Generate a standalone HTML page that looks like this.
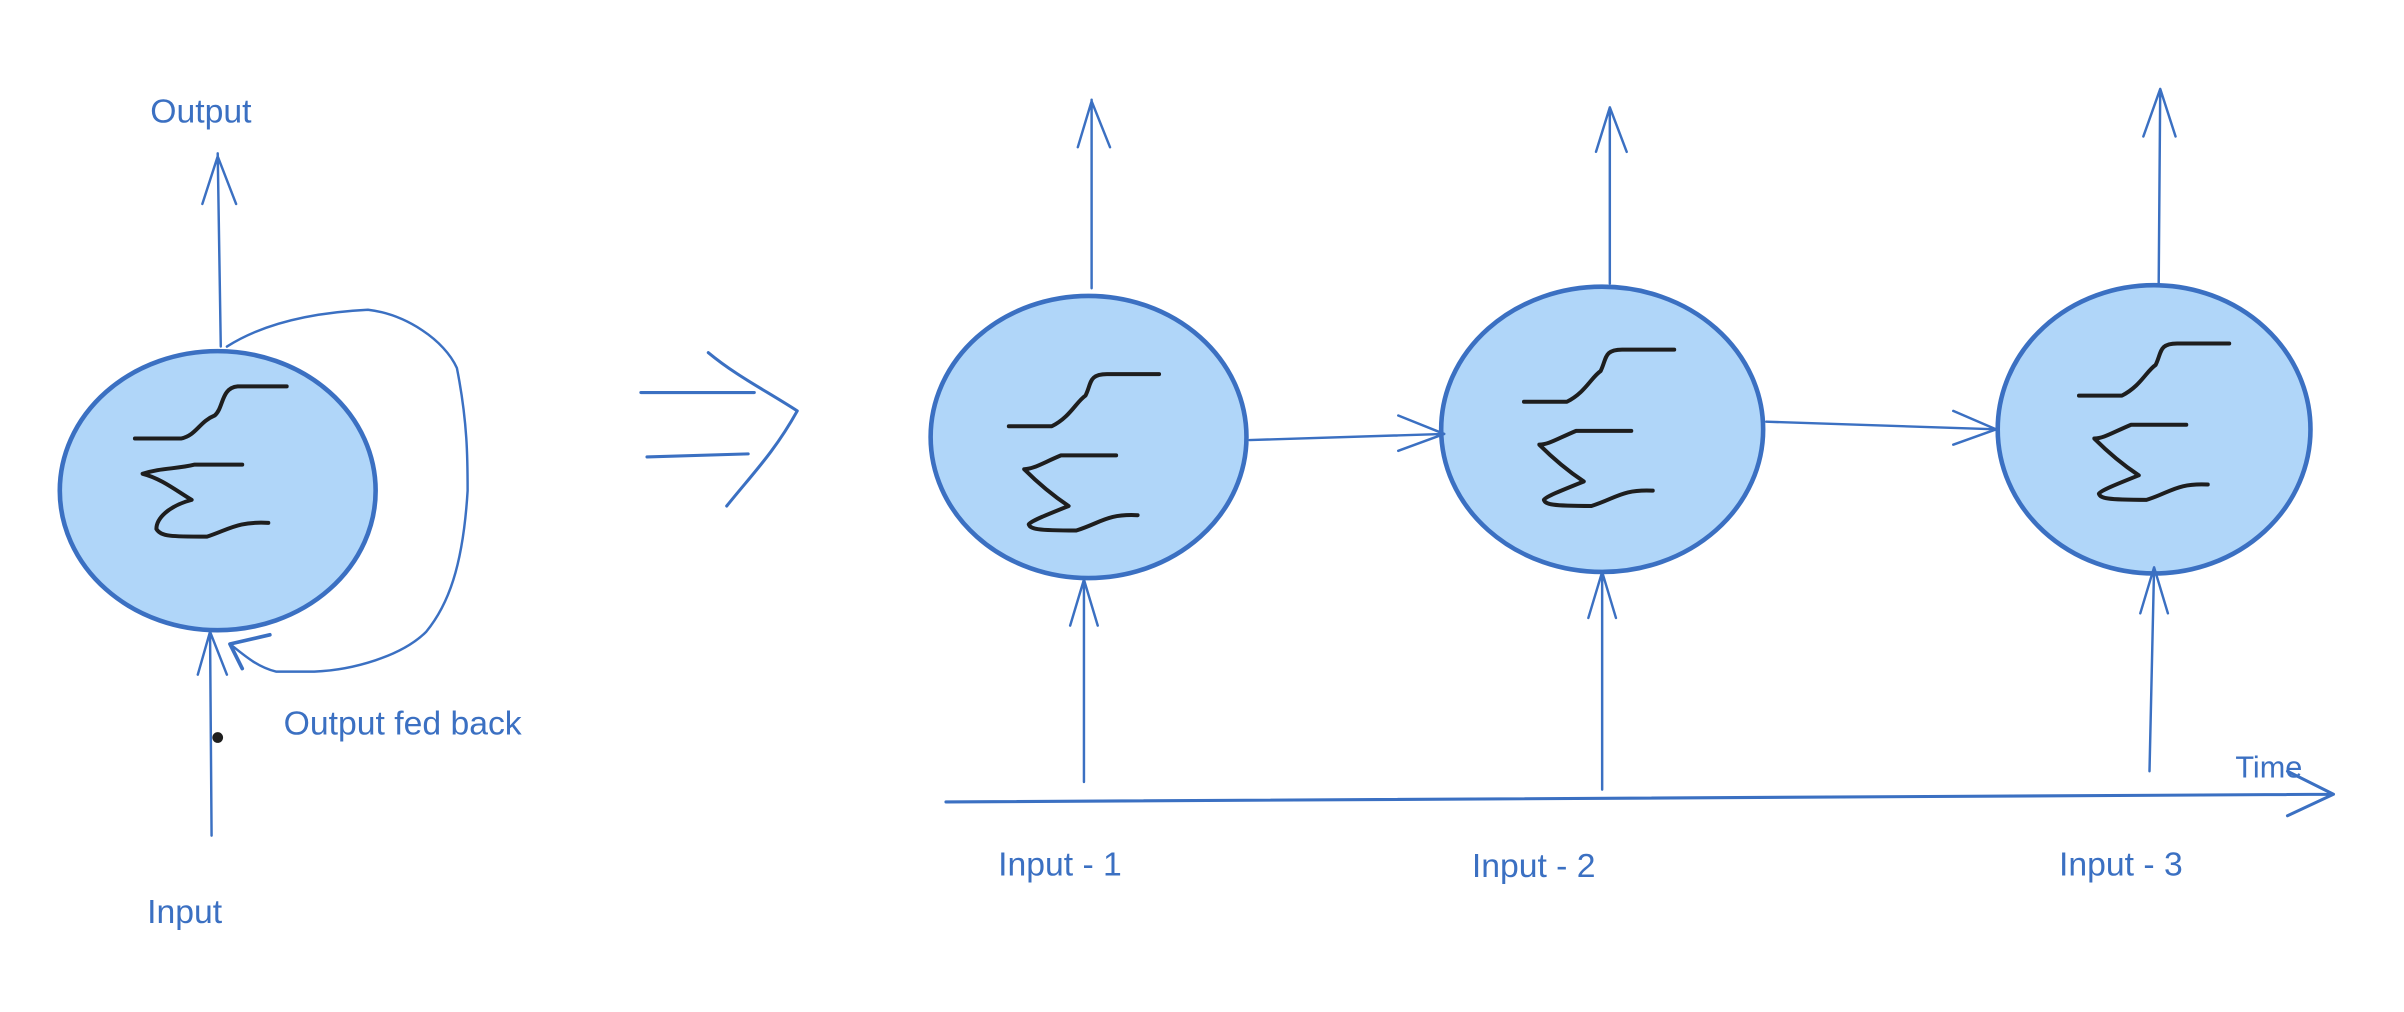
<!DOCTYPE html>
<html><head><meta charset="utf-8"><style>
html,body{margin:0;padding:0;background:#fff;}
svg{display:block;}
text{font-family:"Liberation Sans",sans-serif;fill:#3b70c2;}
</style></head><body>
<svg width="2404" height="1012" viewBox="0 0 1568 660" preserveAspectRatio="none" xmlns="http://www.w3.org/2000/svg">
<defs></defs>
<g fill="none" stroke="#3b70c2" stroke-width="1.6" stroke-linecap="round" stroke-linejoin="round">
<path d="M144,226 L142,100 M132,133 L142,102 L154,133"/>
<path d="M148,226 C170,212 200,204 240,202 C265,205 290,222 298,240 C305,275 305,300 305,320 C302,370 292,395 278,412 C262,428 230,437 205,438 L180,438 C168,435 160,428 150,420"/>
<path d="M150,420 L176,414 M150,420 L158,436" stroke-width="2.4"/>
<path d="M138,545 L137,412 M129,440 L137,412 L148,440"/>
<ellipse cx="142" cy="320" rx="103" ry="91" fill="#b0d6f9" stroke-width="3"/>
<path d="M418,256 L492,256 M422,298 L488,296 M462,230 C480,245 500,255 520,268 C505,295 490,310 474,330" stroke-width="2"/>
<ellipse cx="710" cy="285" rx="103" ry="92" fill="#b0d6f9" stroke-width="3"/>
<ellipse cx="1045" cy="280" rx="105" ry="93" fill="#b0d6f9" stroke-width="3"/>
<ellipse cx="1405" cy="280" rx="102" ry="94" fill="#b0d6f9" stroke-width="3"/>
<path d="M712,188 L712,65 M703,96 L712,66 L724,96"/>
<path d="M1050,185 L1050,70 M1041,99 L1050,70 L1061,99"/>
<path d="M1408,185 L1409,58 M1398,89 L1409,58 L1419,89"/>
<path d="M707,510 L707,378 M698,408 L707,378 L716,408"/>
<path d="M1045,515 L1045,373 M1036,403 L1045,373 L1054,403"/>
<path d="M1402,503 L1405,370 M1396,400 L1405,370 L1414,400"/>
<path d="M815,287 L942,283 M912,271 L942,283 L912,294"/>
<path d="M1152,275 L1302,280 M1274,268 L1302,280 L1274,290"/>
<path d="M617,523 L1522,518 M1492,503 L1522,518 L1492,532" stroke-width="2"/>
</g>
<g fill="none" stroke="#1e1e1e" stroke-width="2.6" stroke-linecap="round" stroke-linejoin="round">
<path d="M88,286 L118,286 C128,284 130,275 140,271 C146,266 144,253 155,252 L187,252"/>
<path d="M158,303 L127,303 C115,306 105,305 93,309 C105,312 115,320 125,326 C110,330 102,338 102,345 C105,350 112,350 135,350 C150,345 155,340 175,341"/>
<g id="g1">
<path d="M658,278 L686,278 C698,272 702,262 708,258 C712,250 710,244 722,244 L756,244"/>
<path d="M728,297 L692,297 C680,302 674,306 668,306 C678,316 688,324 697,330 C682,336 672,340 671,342 C672,345 676,346 702,346 C718,341 722,335 742,336"/>
</g>
<use href="#g1" transform="translate(336,-16)"/>
<use href="#g1" transform="translate(698,-20)"/>
</g>
<circle cx="142" cy="481" r="3.5" fill="#1e1e1e"/>
<text x="98" y="80" font-size="22">Output</text>
<text x="96" y="602" font-size="22">Input</text>
<text x="185" y="479" font-size="22">Output fed back</text>
<text x="1458" y="507" font-size="20">Time</text>
<text x="651" y="571" font-size="22">Input - 1</text>
<text x="960" y="572" font-size="22">Input - 2</text>
<text x="1343" y="571" font-size="22">Input - 3</text>
</svg>
</body></html>
